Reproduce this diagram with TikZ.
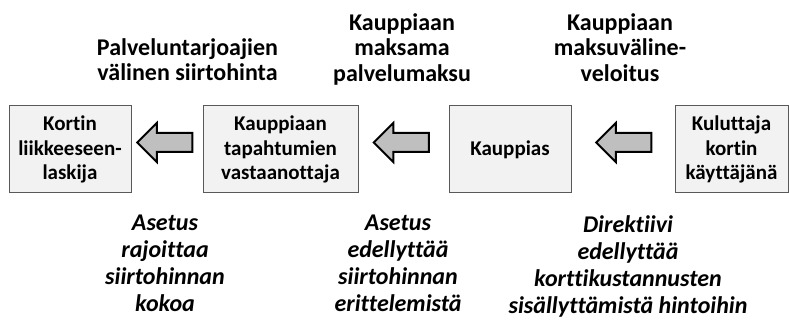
\documentclass[tikz,border=0pt]{standalone}
\usepackage{fontspec}
\setmainfont{Carlito}[Ligatures={NoCommon}]
\usetikzlibrary{shapes.arrows}
\definecolor{boxgr}{gray}{0.95}
\definecolor{boxline}{gray}{0.35}
\definecolor{arrgr}{gray}{0.75}
\begin{document}
\begin{tikzpicture}[x=1pt,y=1pt,
  party/.style={draw=boxline, fill=boxgr, line width=1pt, minimum height=87pt, inner sep=0pt, align=center, font=\bfseries\fontsize{21}{24.5}\selectfont},
  flowarrow/.style={single arrow, shape border rotate=180, draw=black, fill=arrgr, line width=2pt, line join=miter, minimum height=55pt, inner sep=0pt, inner ysep=8.5pt, single arrow head extend=10pt, single arrow head indent=0pt},
  fee/.style={anchor=north, inner sep=0pt, align=center, font=\bfseries\fontsize{24}{25.5}\selectfont},
  rule/.style={anchor=north, inner sep=0pt, align=center, font=\bfseries\itshape\fontsize{24}{27}\selectfont}]
\useasboundingbox (0,0) rectangle (789,320);
% osapuolet
\node[party, minimum width=122pt] (issuer) at (70,170.5) {Kortin\\liikkeeseen-\\laskija};
\node[party, minimum width=155pt] (acquirer) at (280.5,170.5) {Kauppiaan\\tapahtumien\\vastaanottaja};
\node[party, minimum width=122pt] (merchant) at (510,170.5) {Kauppias};
\node[party, minimum width=113pt] (consumer) at (731.5,170.5) {Kuluttaja\\kortin\\käyttäjänä};
% maksuvirrat
\foreach \n/\x in {arrA/169.5, arrB/406, arrC/628.5}{
\node[flowarrow] (\n) at (\x,177.5) {};
}
% maksut
\node[fee] (interchange) at (187.5,282) {Palveluntarjoajien\\välinen siirtohinta};
\node[fee] (msc) at (402,307) {Kauppiaan\\maksama\\palvelumaksu};
\node[fee] (surcharge) at (620,307) {Kauppiaan\\maksuväline-\\veloitus};
% sääntely
\node[rule] (capnote) at (165,105) {Asetus\\rajoittaa\\siirtohinnan\\kokoa};
\node[rule] (splitnote) at (398,105) {Asetus\\edellyttää\\siirtohinnan\\erittelemistä};
\node[rule] (dirnote) at (628,105) {Direktiivi\\edellyttää\\korttikustannusten\\sisällyttämistä hintoihin};
\end{tikzpicture}
\end{document}
